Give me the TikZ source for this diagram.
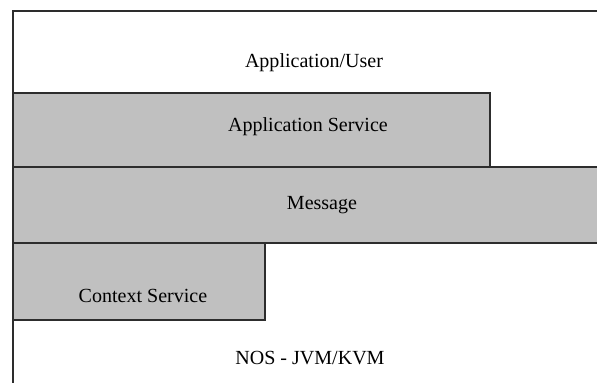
\documentclass[tikz,border=0pt]{standalone}
\usepackage{fontspec}
\setmainfont{Liberation Serif}
\usepackage{xcolor}
\definecolor{layergrey}{RGB}{192,192,192}
\definecolor{layeredge}{RGB}{45,45,45}
\tikzset{
  layer/.style={rectangle, draw=layeredge, line width=1.1pt, fill=white,
              anchor=south west, inner sep=0pt},
  greylayer/.style={layer, fill=layergrey},
  lbl/.style={anchor=base, inner sep=0pt, font=\fontsize{11.4}{13}\selectfont},
}

\begin{document}
\begin{tikzpicture}
    \useasboundingbox (0,0) rectangle (11.94,7.66);
    \clip (0,0) rectangle (11.94,7.66);
    % white frame, runs past the right and bottom edges
    \node[layer, minimum width=12.06cm, minimum height=7.72cm] (frame) at (0.24,-0.30) {};
    \node[greylayer, minimum width=12.06cm, minimum height=1.52cm] (message) at (0.24,2.78) {};
    \node[greylayer, minimum width=9.54cm, minimum height=1.48cm] (appsvc) at (0.24,4.30) {};
    \node[greylayer, minimum width=5.04cm, minimum height=1.54cm] (ctxsvc) at (0.24,1.24) {};

    \node[lbl] (userlbl) at (6.28,6.30) {Application/User};
    \node[lbl] (appsvclbl) at (6.16,5.02) {Application Service};
    \node[lbl] (messagelbl) at (6.44,3.46) {Message};
    \node[lbl] (ctxsvclbl) at (2.86,1.60) {Context Service};
    \node[lbl] (noslbl) at (6.20,0.36) {NOS - JVM/KVM};
  \end{tikzpicture}
\end{document}
